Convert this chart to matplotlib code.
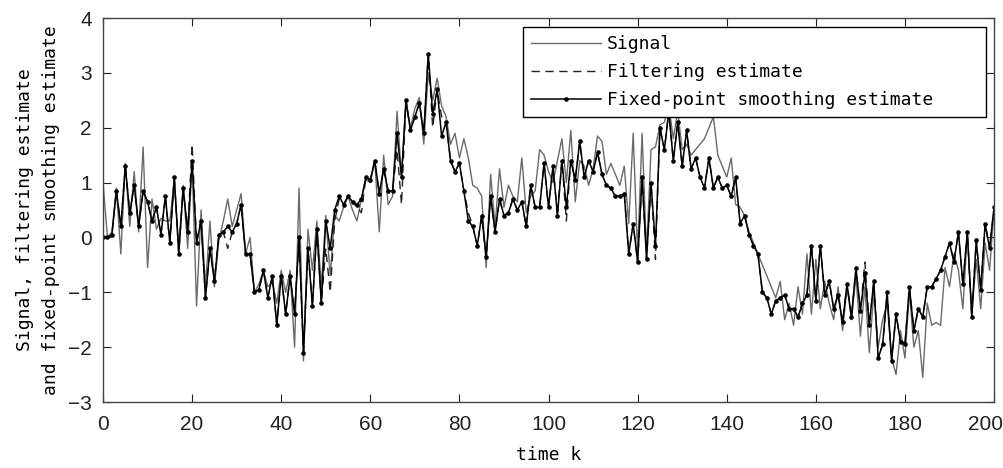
import matplotlib
matplotlib.use("Agg")
import matplotlib.pyplot as plt
import matplotlib.transforms as mtransforms
import numpy as np

# time axis
k = np.arange(0, 201)

signal = [
    1.0, 0.0, 0.1, 0.9, -0.3, 1.35, 0.2, 1.2, 0.1, 1.65,
    -0.55, 0.7, 0.15, 0.35, 0.3, 0.3, 1.05, -0.2, 0.95, -0.2,
    1.35, -1.25, 0.5, -0.9, 0.3, -0.9, -0.05, 0.3, 0.7, 0.2,
    0.5, 0.8, -0.3, 0.0, -1.0, -0.85, -0.6, -0.9, -0.8, -1.2,
    -0.6, -1.0, -0.6, -2.0, 0.9, -2.25, 0.15, -0.6, 0.3, -0.9,
    0.4, -0.7, 0.4, 0.3, 0.55, 0.75, 0.5, 0.3, 0.7, 1.05,
    1.0, 1.4, 0.1, 1.5, 0.6, 0.75, 2.3, 1.1, 2.5, 2.0,
    2.35, 2.55, 1.7, 3.0, 2.5, 2.9, 2.4, 2.2, 1.7, 1.9,
    1.45, 1.8, 1.45, 0.95, 0.9, 0.75, -0.55, 1.15, 0.2, 1.25,
    0.55, 0.95, 0.75, 0.65, 1.45, 0.45, 0.75, 0.85, 1.6, 1.5,
    1.2, 1.0, 1.4, 1.8, 1.0, 1.95, 0.65, 1.4, 1.3, 0.95,
    1.25, 1.85, 1.75, 1.15, 1.35, 1.15, 0.95, 1.3, 0.25, 1.9,
    -0.3, 1.9, -0.3, 1.6, 1.65, 2.05, 2.1, 2.4, 1.8, 2.3,
    1.6, 1.7, 1.5, 1.6, 1.7, 1.8, 2.0, 2.2, 1.5, 1.3,
    1.1, 1.45, 0.6, 0.55, 0.4, 0.1, -0.1, -0.3, -0.5, -0.7,
    -0.9, -1.1, -0.8, -1.5, -1.2, -1.6, -0.9, -1.4, -0.3, -1.4,
    -0.4, -1.3, -0.8, -1.2, -1.5, -0.9, -1.7, -0.9, -1.5, -0.7,
    -1.8, -0.9, -2.1, -1.0, -2.0, -1.5, -1.2, -2.2, -2.5, -1.7,
    -2.2, -1.0, -2.0, -1.7, -2.55, -1.2, -1.6, -1.55, -1.6, -0.55,
    -0.9, -0.3, -0.6, -1.3, 0.1, -1.4, -0.4, -1.3, -0.1, -0.6,
    0.55,
]

filtering = [
    0.0, 0.0, 0.05, 0.85, 0.2, 1.3, 0.45, 0.95, 0.2, 0.85,
    0.65, 0.3, 0.55, 0.05, 0.75, -0.1, 1.1, -0.3, 0.9, 0.1,
    1.7, -0.1, 0.35, -1.1, -0.2, -0.8, 0.05, 0.1, -0.2, 0.1,
    0.25, 0.6, -0.3, -0.3, -1.0, -0.95, -0.6, -1.1, -0.7, -1.6,
    -0.7, -1.4, -0.7, -1.4, 0.0, -2.1, -0.2, -1.25, 0.15, -1.2,
    -0.2, -1.0, 0.3, 0.7, 0.6, 0.75, 0.65, 0.55, 0.45, 1.1,
    1.05, 1.4, 0.8, 1.25, 0.85, 0.85, 1.6, 0.6, 2.5, 1.95,
    2.2, 2.45, 1.9, 3.35, 2.0, 2.7, 2.2, 2.1, 1.4, 1.2,
    1.35, 0.85, 0.45, 0.2, -0.15, 0.4, -0.35, 0.75, 0.1, 0.7,
    0.4, 0.45, 0.7, 0.5, 0.65, 0.2, 0.95, 0.55, 0.55, 1.35,
    0.55, 1.3, 0.4, 1.4, 0.3, 1.4, 1.05, 1.75, 1.1, 1.4,
    1.2, 1.55, 1.15, 0.95, 0.9, 0.75, 0.75, 0.8, -0.3, 0.25,
    -0.45, 1.1, -0.4, 1.0, -0.4, 2.0, 1.6, 2.3, 1.4, 2.1,
    1.3, 1.95, 1.25, 1.45, 1.1, 0.9, 1.45, 0.9, 1.1, 0.9,
    0.95, 0.75, 1.1, 0.25, 0.4, 0.05, -0.15, -0.3, -1.0, -1.1,
    -1.4, -1.15, -1.1, -1.05, -1.3, -1.3, -1.45, -1.2, -1.05, -0.1,
    -1.15, -0.15, -1.05, -0.8, -1.3, -1.05, -1.55, -0.85, -1.45, -0.55,
    -1.35, -0.45, -1.6, -0.8, -2.2, -1.95, -1.0, -2.25, -1.4, -1.9,
    -1.95, -0.9, -1.7, -1.3, -1.45, -0.9, -0.9, -0.75, -0.6, -0.35,
    -0.1, -0.45, 0.1, -0.85, 0.1, -1.45, -0.05, -0.95, 0.25, -0.2,
    0.55,
]

smoothing = [
    0.0, 0.0, 0.05, 0.85, 0.2, 1.3, 0.45, 0.95, 0.2, 0.85,
    0.65, 0.3, 0.55, 0.05, 0.75, -0.1, 1.1, -0.3, 0.9, 0.1,
    1.4, -0.1, 0.3, -1.1, -0.2, -0.8, 0.05, 0.1, 0.2, 0.1,
    0.25, 0.6, -0.3, -0.3, -1.0, -0.95, -0.6, -1.1, -0.7, -1.6,
    -0.7, -1.4, -0.7, -1.4, 0.0, -2.1, -0.2, -1.25, 0.15, -1.2,
    0.3, -0.2, 0.5, 0.75, 0.6, 0.75, 0.65, 0.6, 0.7, 1.1,
    1.05, 1.4, 0.8, 1.25, 0.85, 0.85, 1.9, 1.1, 2.5, 1.95,
    2.2, 2.45, 1.9, 3.35, 2.25, 2.7, 1.85, 2.1, 1.4, 1.2,
    1.35, 0.85, 0.3, 0.2, -0.15, 0.4, -0.35, 0.75, 0.1, 0.7,
    0.4, 0.45, 0.7, 0.5, 0.65, 0.2, 0.95, 0.55, 0.55, 1.35,
    0.55, 1.3, 0.4, 1.4, 0.55, 1.4, 1.05, 1.75, 1.1, 1.4,
    1.2, 1.55, 1.15, 0.95, 0.9, 0.75, 0.75, 0.8, -0.3, 0.25,
    -0.45, 1.1, -0.4, 1.0, -0.15, 2.0, 1.6, 2.3, 1.4, 2.1,
    1.3, 1.95, 1.25, 1.45, 1.1, 0.9, 1.45, 0.9, 1.1, 0.9,
    0.95, 0.75, 1.1, 0.25, 0.4, 0.05, -0.15, -0.3, -1.0, -1.1,
    -1.4, -1.15, -1.1, -1.05, -1.3, -1.3, -1.45, -1.2, -1.05, -0.15,
    -1.15, -0.15, -1.05, -0.8, -1.3, -1.05, -1.55, -0.85, -1.45, -0.55,
    -1.35, -0.65, -1.6, -0.8, -2.2, -1.95, -1.0, -2.25, -1.4, -1.9,
    -1.95, -0.9, -1.7, -1.3, -1.45, -0.9, -0.9, -0.75, -0.6, -0.35,
    -0.1, -0.45, 0.1, -0.85, 0.1, -1.45, -0.05, -0.95, 0.25, -0.2,
    0.55,
]

x_ticks = [0, 20, 40, 60, 80, 100, 120, 140, 160, 180, 200]
y_ticks = [-3, -2, -1, 0, 1, 2, 3, 4]

mono = "DejaVu Sans Mono"
tick_font = ["Liberation Sans", "DejaVu Sans"]

fig = plt.figure(figsize=(10.04, 4.68), dpi=100)
ax = fig.add_axes([0.1026, 0.141, 0.8875, 0.8205])

ax.plot(k, signal, color="#6a6a6a", linewidth=1.0, label="Signal")
ax.plot(k, filtering, color="#222222", linewidth=1.0, linestyle=(0, (6, 4)),
        label="Filtering estimate")
ax.plot(k, smoothing, color="black", linewidth=1.1, marker="o", markersize=2.3,
        label="Fixed-point smoothing estimate")

ax.set_xlim(0, 200)
ax.set_ylim(-3, 4)
ax.set_xticks(x_ticks)
ax.set_yticks(y_ticks)
ax.tick_params(direction="in", top=True, right=True, length=6, width=0.8,
               labelsize=15, colors="#222222")
ax.tick_params(axis="x", pad=9)
ax.tick_params(axis="y", pad=8)
for lbl in ax.get_xticklabels() + ax.get_yticklabels():
    lbl.set_family(tick_font)
# last x tick label sits a little left in the original (edge of the page)
last = ax.get_xticklabels()[-1]
last.set_transform(last.get_transform() +
                   mtransforms.ScaledTranslation(-9 / 100, 0, fig.dpi_scale_trans))
for s in ax.spines.values():
    s.set_linewidth(1.0)
    s.set_color("#444444")

ax.set_xlabel("time k", family=mono, fontsize=13, labelpad=9)
ax.set_ylabel("Signal, filtering estimate\nand fixed-point smoothing estimate",
              family=mono, fontsize=13, labelpad=6, linespacing=1.55)

leg = ax.legend(loc="upper left", bbox_to_anchor=(0.471, 0.0, 0.52, 0.976),
                mode="expand", borderaxespad=0,
                prop={"family": mono, "size": 13},
                fancybox=False, framealpha=1, edgecolor="black",
                handlelength=3.9, handletextpad=0.3, borderpad=0.45,
                labelspacing=0.55)
leg.get_frame().set_linewidth(1.0)

fig.savefig("out.png", dpi=100)
